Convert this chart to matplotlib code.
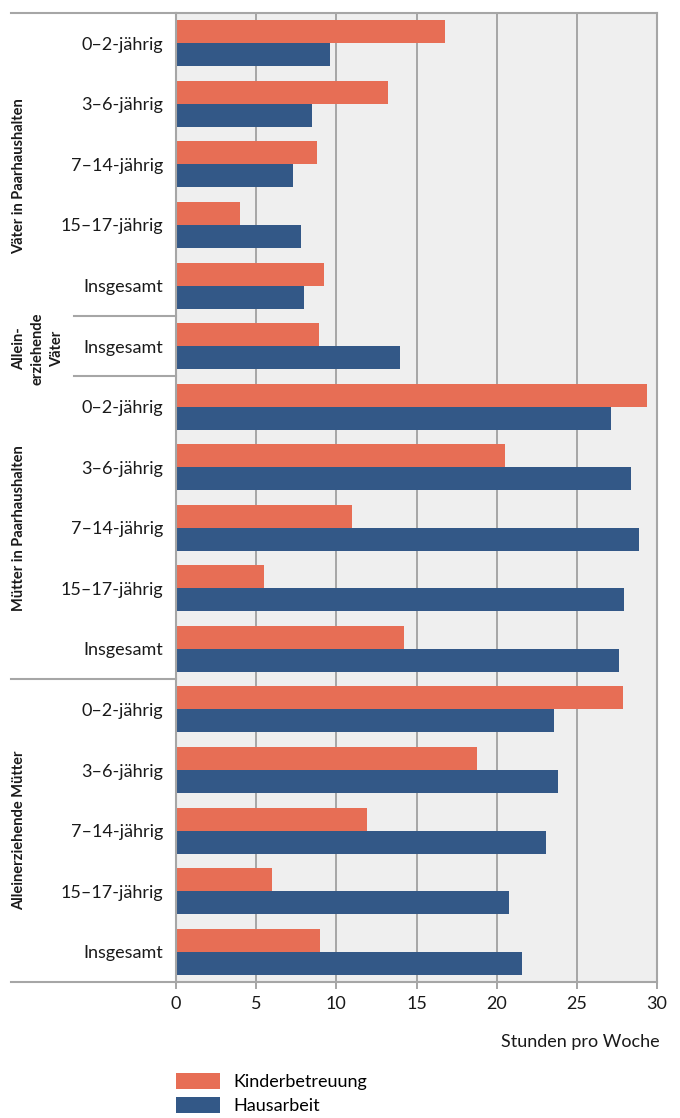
import matplotlib.pyplot as plt
from matplotlib.lines import Line2D
from matplotlib.transforms import blended_transform_factory
import numpy as np

plt.rcParams["font.family"] = ["Lato", "DejaVu Sans"]

labels = [
    "0–2-jährig", "3–6-jährig", "7–14-jährig", "15–17-jährig", "Insgesamt",
    "Insgesamt",
    "0–2-jährig", "3–6-jährig", "7–14-jährig", "15–17-jährig", "Insgesamt",
    "0–2-jährig", "3–6-jährig", "7–14-jährig", "15–17-jährig", "Insgesamt",
]
kinderbetreuung = [16.8, 13.2, 8.8, 4.0, 9.2,
                   8.9,
                   29.4, 20.5, 11.0, 5.5, 14.2,
                   27.9, 18.8, 11.9, 6.0, 9.0]
hausarbeit = [9.6, 8.5, 7.3, 7.8, 8.0,
              14.0,
              27.1, 28.4, 28.9, 27.95, 27.6,
              23.6, 23.8, 23.1, 20.8, 21.6]
groups = ["Väter in Paarhaushalten", "Allein-\nerziehende\nVäter",
          "Mütter in Paarhaushalten", "Alleinerziehende Mütter"]
group_centers = [2.2, 5.05, 8.0, 13.0]
group_x = [19, 38, 19, 19]  # pixels from left
group_spacing = [1.0, 1.45, 1.0, 1.0]
boundaries = [4.5, 5.5, 10.5]
boundary_x0 = [74, 74, 11]

orange = "#e76e55"
blue = "#335887"
grey = "#a6a6a6"
text_col = "#1a1a1a"

W, H = 680, 1118
fig = plt.figure(figsize=(W / 100, H / 100), dpi=100)
ax = fig.add_axes([176 / W, 1 - 982 / H, (657 - 176) / W, (982 - 13) / H])

y = np.arange(len(labels))
h = 0.38
b1 = ax.barh(y - h / 2, kinderbetreuung, height=h, color=orange, label="Kinderbetreuung")
b2 = ax.barh(y + h / 2, hausarbeit, height=h, color=blue, label="Hausarbeit")

ax.set_facecolor("#efefef")
ax.set_xlim(0, 30)
ax.set_ylim(len(labels) - 0.5, -0.5)
ax.set_xticks(range(0, 31, 5))
ax.set_yticks(y)
ax.set_yticklabels(labels, fontsize=13, color=text_col)
ax.tick_params(axis="y", length=0, pad=9)
ax.tick_params(axis="x", length=5, width=1.4, color=grey, labelsize=13,
               labelcolor=text_col, pad=5)
ax.set_axisbelow(True)
ax.grid(True, axis="x", color=grey, linewidth=1.4)
for s in ax.spines.values():
    s.set_color(grey)
    s.set_linewidth(1.5)

trans = blended_transform_factory(fig.transFigure, ax.transData)
# horizontal separators reaching into the label area
for yy, x0 in zip(boundaries, boundary_x0):
    fig.add_artist(Line2D([x0 / W, 176 / W], [yy, yy], transform=trans,
                          color=grey, linewidth=1.5))
for yy in [-0.5, len(labels) - 0.5]:
    fig.add_artist(Line2D([11 / W, 176 / W], [yy, yy], transform=trans,
                          color=grey, linewidth=1.5))

for g, c, gx, ls in zip(groups, group_centers, group_x, group_spacing):
    fig.text(gx / W, c, g, transform=trans, rotation=90, ha="center", va="center",
             multialignment="center", fontsize=10.5, fontweight="bold",
             linespacing=ls, color=text_col)

fig.text(660 / W, 1 - 1042 / H, "Stunden pro Woche", ha="right", va="center",
         fontsize=13, color=text_col)

fig.legend(handles=[b1, b2], loc="upper left",
           bbox_to_anchor=(176 / W, 1 - 1073 / H), frameon=False,
           fontsize=13, handlelength=2.44, handleheight=1.0,
           handletextpad=0.72, labelspacing=0.35, borderpad=0, borderaxespad=0)

fig.savefig("out.png", dpi=100)
